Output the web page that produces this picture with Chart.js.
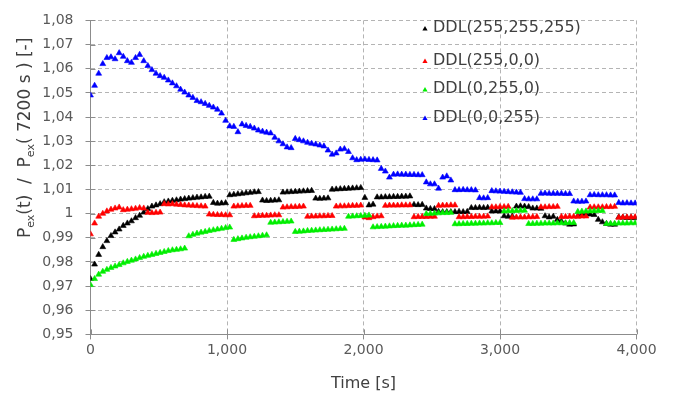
<!DOCTYPE html>
<html><head><meta charset="utf-8">
<script src="https://cdn.jsdelivr.net/npm/chart.js@4.4.1/dist/chart.umd.min.js"></script>
<style>html,body{margin:0;padding:0;background:#fff;overflow:hidden}</style>
</head><body>
<canvas id="c" width="680" height="396"></canvas>
<script>
const times = [
0,30,60,90,120,150,180,210,240,270,
300,330,360,390,420,450,480,510,540,570,
600,630,660,690,720,750,780,810,840,870,
900,930,960,990,1020,1050,1080,1110,1140,1170,
1200,1230,1260,1290,1320,1350,1380,1410,1440,1470,
1500,1530,1560,1590,1620,1650,1680,1710,1740,1770,
1800,1830,1860,1890,1920,1950,1980,2010,2040,2070,
2100,2130,2160,2190,2220,2250,2280,2310,2340,2370,
2400,2430,2460,2490,2520,2550,2580,2610,2640,2670,
2700,2730,2760,2790,2820,2850,2880,2910,2940,2970,
3000,3030,3060,3090,3120,3150,3180,3210,3240,3270,
3300,3330,3360,3390,3420,3450,3480,3510,3540,3570,
3600,3630,3660,3690,3720,3750,3780,3810,3840,3870,
3900,3930,3960,3990];

const seriesLabels = ['DDL(255,255,255)','DDL(255,0,0)','DDL(0,255,0)','DDL(0,0,255)'];

const ddlWhite = [
0.973,0.979,0.983,0.9862,0.9887,0.9908,0.9923,0.9935,0.9950,0.9960,
0.9969,0.9982,0.9992,1.0005,1.0020,1.0030,1.0035,1.0040,1.0048,1.0051,
1.0054,1.0056,1.0059,1.0061,1.0063,1.0065,1.0067,1.0068,1.0070,1.0071,
1.0045,1.0042,1.0043,1.0044,1.0077,1.0079,1.0081,1.0083,1.0085,1.0087,
1.0089,1.0090,1.0055,1.0053,1.0054,1.0055,1.0056,1.0088,1.0089,1.0090,
1.0091,1.0092,1.0093,1.0094,1.0095,1.0063,1.0062,1.0063,1.0064,1.0100,
1.0101,1.0102,1.0103,1.0104,1.0105,1.0106,1.0107,1.0066,1.0035,1.0038,
1.0068,1.0068,1.0069,1.0069,1.0070,1.0070,1.0071,1.0071,1.0072,1.0037,
1.0036,1.0037,1.0022,1.0020,1.0020,1.0008,1.0007,1.0007,1.0007,1.0007,
1.0008,1.0007,1.0008,1.0024,1.0024,1.0025,1.0024,1.0025,1.0010,1.0010,
1.0010,0.9990,0.9988,0.9989,1.0030,1.0031,1.0030,1.0028,1.0022,1.0022,
1.0021,0.9990,0.9985,0.9988,0.9975,0.9968,0.9960,0.9955,0.9956,0.9990,
0.9998,0.9998,0.9997,0.9995,0.9975,0.9965,0.9958,0.9955,0.9955,0.9985,
0.9984,0.9983,0.9983,0.9982];

const ddlRed = [
0.9915,0.9960,0.9988,1.0000,1.0010,1.0017,1.0022,1.0026,1.0015,1.0017,
1.0019,1.0021,1.0024,1.0022,1.0004,1.0003,1.0004,1.0005,1.0040,1.0039,
1.0040,1.0038,1.0037,1.0035,1.0034,1.0033,1.0032,1.0031,1.0030,0.9997,
0.9996,0.9995,0.9995,0.9994,0.9994,1.0030,1.0031,1.0032,1.0033,1.0033,
0.9990,0.9991,0.9992,0.9992,0.9993,0.9994,0.9994,1.0026,1.0027,1.0028,
1.0028,1.0029,1.0030,0.9988,0.9989,0.9989,0.9990,0.9990,0.9991,0.9991,
1.0030,1.0031,1.0031,1.0032,1.0033,1.0033,1.0034,0.9985,0.9982,0.9986,
0.9989,0.9990,1.0033,1.0034,1.0034,1.0034,1.0035,1.0035,1.0035,0.9986,
0.9987,0.9987,0.9987,0.9988,0.9988,1.0033,1.0034,1.0034,1.0035,1.0035,
0.9986,0.9986,0.9987,0.9987,0.9988,0.9988,0.9988,0.9989,1.0027,1.0027,
1.0028,1.0028,1.0029,0.9984,0.9985,0.9985,0.9985,0.9986,0.9986,0.9987,
1.0027,1.0027,1.0028,1.0028,1.0029,0.9987,0.9987,0.9988,0.9988,0.9988,
0.9989,0.9989,1.0026,1.0027,1.0027,1.0027,1.0028,1.0028,1.0029,0.9984,
0.9985,0.9985,0.9985,0.9986];

const ddlGreen = [
0.9705,0.9730,0.9748,0.9760,0.9768,0.9776,0.9782,0.9788,0.9795,0.9801,
0.9806,0.9811,0.9817,0.9822,0.9826,0.9830,0.9834,0.9838,0.9842,0.9846,
0.9849,0.9851,0.9853,0.9856,0.9907,0.9913,0.9918,0.9922,0.9925,0.9929,
0.9932,0.9935,0.9938,0.9941,0.9943,0.9892,0.9895,0.9898,0.9901,0.9903,
0.9905,0.9907,0.9909,0.9911,0.9963,0.9964,0.9965,0.9966,0.9967,0.9968,
0.9925,0.9926,0.9927,0.9929,0.9930,0.9931,0.9932,0.9933,0.9934,0.9935,
0.9936,0.9937,0.9938,0.9988,0.9989,0.9990,0.9991,0.9992,0.9993,0.9944,
0.9945,0.9946,0.9947,0.9948,0.9949,0.9950,0.9951,0.9951,0.9952,0.9953,
0.9954,0.9955,0.9999,1.0000,1.0001,1.0002,1.0003,1.0003,1.0004,0.9957,
0.9957,0.9958,0.9958,0.9959,0.9959,0.9960,0.9960,0.9961,0.9961,0.9962,
0.9962,1.0010,1.0011,1.0011,1.0012,1.0013,1.0013,0.9958,0.9958,0.9959,
0.9959,0.9960,0.9960,0.9960,0.9961,0.9961,0.9961,0.9962,0.9962,1.0008,
1.0009,1.0010,1.0010,1.0011,1.0012,1.0012,0.9958,0.9959,0.9959,0.9960,
0.9960,0.9960,0.9961,0.9961];

const ddlBlue = [
1.049,1.053,1.058,1.062,1.0645,1.0648,1.064,1.0665,1.065,1.0632,
1.0625,1.0645,1.0658,1.0632,1.0612,1.0595,1.0580,1.0570,1.0563,1.0552,
1.0540,1.0528,1.0514,1.0502,1.0490,1.0480,1.0467,1.0462,1.0455,1.0447,
1.0440,1.0431,1.0415,1.0385,1.0362,1.0360,1.0338,1.0370,1.0364,1.0360,
1.0353,1.0345,1.0340,1.0336,1.0333,1.0315,1.0300,1.0288,1.0275,1.0272,
1.0310,1.0305,1.0300,1.0294,1.0290,1.0287,1.0283,1.0279,1.0262,1.0245,
1.0250,1.0266,1.0268,1.0256,1.0230,1.0222,1.0224,1.0225,1.0223,1.0222,
1.0221,1.0186,1.0175,1.0150,1.0162,1.0163,1.0162,1.0162,1.0161,1.0161,
1.0160,1.0160,1.0130,1.0122,1.0122,1.0104,1.0150,1.0155,1.0138,1.0098,
1.0098,1.0099,1.0098,1.0098,1.0097,1.0065,1.0064,1.0065,1.0094,1.0093,
1.0092,1.0091,1.0090,1.0089,1.0088,1.0087,1.0061,1.0060,1.0060,1.0060,
1.0083,1.0084,1.0083,1.0083,1.0083,1.0083,1.0082,1.0082,1.0051,1.0050,
1.0050,1.0051,1.0077,1.0078,1.0077,1.0077,1.0077,1.0076,1.0076,1.0045,
1.0043,1.0044,1.0043,1.0043];

const xTickStep = 1000;
const yTickStep = 0.01;
const yTitleParts = [['P',0],['ex',1],['(t)  /  P',0],['ex',1],['( 7200 s ) [-]',0]];
const xTitle = 'Time [s]';

const FONT = "'DejaVu Sans', 'Liberation Sans', sans-serif";
const AXIS = '#8c8c8c';
const colors = ['#000000','#ff0000','#00ee00','#0000ff'];
const seriesValues = [ddlWhite, ddlRed, ddlGreen, ddlBlue];

function tri(ctx, x, y, r){
  ctx.beginPath();
  ctx.moveTo(x, y - r);
  ctx.lineTo(x + r*0.866, y + r*0.5);
  ctx.lineTo(x - r*0.866, y + r*0.5);
  ctx.closePath();
  ctx.fill();
}

const innerTicks = {
  id:'innerTicks',
  beforeDatasetsDraw(chart){
    const ctx = chart.ctx, a = chart.chartArea;
    const xs = chart.scales.x, ys = chart.scales.y;
    ctx.save(); ctx.strokeStyle = AXIS; ctx.lineWidth = 1; ctx.setLineDash([]);
    ctx.beginPath();
    ys.ticks.forEach(t=>{const y=Math.round(ys.getPixelForValue(t.value))+0.5; ctx.moveTo(a.left, y); ctx.lineTo(a.left+5, y);});
    xs.ticks.forEach(t=>{const x=Math.round(xs.getPixelForValue(t.value))+0.5; ctx.moveTo(x, a.bottom); ctx.lineTo(x, a.bottom-5);});
    ctx.stroke(); ctx.restore();
  }
};

const yTitle = {
  id:'yTitle',
  afterDraw(chart){
    const ctx = chart.ctx;
    ctx.save();
    ctx.translate(30, 238);
    ctx.rotate(-Math.PI/2);
    ctx.fillStyle = '#404040';
    ctx.textBaseline = 'alphabetic';
    let x = 0;
    for (const [s, sub] of yTitleParts){
      ctx.font = (sub ? '11px ' : '17px ') + FONT;
      ctx.fillText(s, x, sub ? 4 : 0);
      x += ctx.measureText(s).width;
    }
    ctx.restore();
  }
};

const insideLegend = {
  id:'insideLegend',
  afterDatasetsDraw(chart){
    const ctx = chart.ctx;
    const rows = [28, 60.5, 89, 117.5];
    ctx.save();
    ctx.font = '16px ' + FONT;
    ctx.textBaseline = 'middle';
    chart.data.datasets.forEach((ds, i)=>{
      const y = rows[i];
      ctx.fillStyle = ds.pointBackgroundColor;
      tri(ctx, 425, y + 1, 3);
      ctx.fillStyle = '#404040';
      ctx.fillText(ds.label, 433, y);
    });
    ctx.restore();
  }
};

new Chart(document.getElementById('c'), {
  type:'scatter',
  data:{
    datasets: seriesLabels.map((lab, i)=>({
      label: lab,
      data: times.map((t, k)=>({x:t, y:seriesValues[i][k]})),
      showLine:false,
      pointStyle:'triangle',
      pointRadius:3.4,
      pointBorderWidth:0.6,
      pointBackgroundColor: colors[i],
      pointBorderColor: colors[i],
      order: 3 - i
    }))
  },
  options:{
    responsive:false,
    animation:false,
    devicePixelRatio:1,
    layout:{padding:{left:0, right:43.5, top:13, bottom:0}},
    plugins:{legend:{display:false}, tooltip:{enabled:false}},
    scales:{
      x:{
        type:'linear', min:0, max:4000,
        ticks:{stepSize:xTickStep, padding:3, color:'#595959', font:{family:FONT, size:14}, maxRotation:0, autoSkip:false},
        grid:{color:'#b4b4b4', tickColor:AXIS, tickLength:5, lineWidth:1},
        border:{display:true, color:AXIS, width:1, dash:[4,3]},
        title:{display:true, text:xTitle, color:'#404040', font:{family:FONT, size:16}, padding:{top:0, bottom:3}},
        afterFit(s){ s.height = 61.6; }
      },
      y:{
        type:'linear', min:0.95, max:1.08,
        ticks:{stepSize:yTickStep, padding:12, color:'#595959', font:{family:FONT, size:14}, autoSkip:false,
          callback:(v)=>String(Math.round(v*100)/100).replace('.', ',')},
        grid:{color:'#b4b4b4', tickColor:AXIS, tickLength:5, lineWidth:1},
        border:{display:true, color:AXIS, width:1, dash:[4,3]},
        afterFit(s){ s.width = 90.5; }
      }
    }
  },
  plugins:[innerTicks, insideLegend, yTitle]
});
</script>
</body></html>
